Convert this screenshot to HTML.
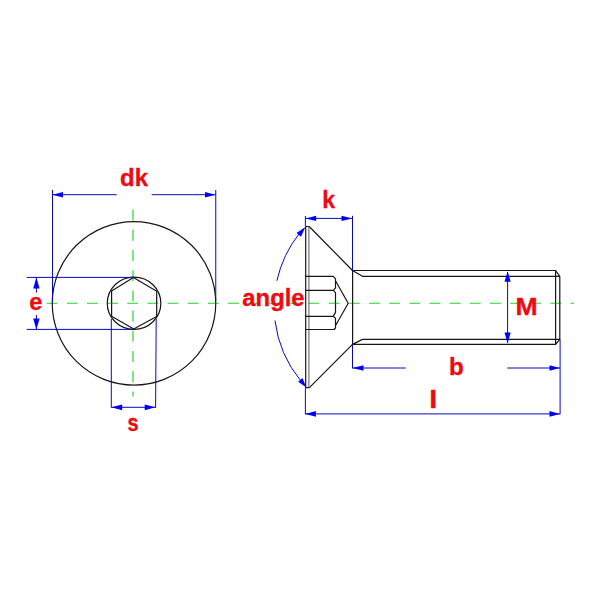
<!DOCTYPE html>
<html lang="en"><head><meta charset="utf-8"><title>Countersunk screw dimensions</title>
<style>html,body{margin:0;padding:0;background:#fff;}body{width:600px;height:600px;overflow:hidden;}svg{display:block;}</style>
</head><body>
<svg width="600" height="600" viewBox="0 0 600 600">
<rect width="600" height="600" fill="#fff"/>
<g stroke="#20d428" stroke-width="1.15" fill="none">
<line x1="46.7" y1="303.2" x2="574" y2="303.2" stroke-dasharray="10.8 9.35"/>
<line x1="133" y1="209.6" x2="133" y2="396.4" stroke-dasharray="11 9.2"/>
</g>
<g stroke="#161616" stroke-width="1.2" fill="none" stroke-linejoin="round" stroke-linecap="round">
<circle cx="134" cy="303.35" r="81.75"/>
<ellipse cx="134.05" cy="303.25" rx="26.8" ry="26.1"/>
<polygon points="133.4,277.5 156.7,291.2 156.7,316.5 133.7,329 111.6,316.2 111.6,291"/>
<path d="M305.7,387.6 L305.7,226.5 L309.2,226.5 L352.5,270.5 M305.7,387.6 L309.4,387.6 L352.5,344.4"/>
<path d="M308.9,226.5 L308.9,387.6" stroke="#444" stroke-width="0.9"/>
<path d="M352.6,270.5 L352.6,344.4"/>
<path d="M352.5,270.5 L555.6,270.5 L559.8,276.3 L559.8,339.4 L555.6,344.4 L352.5,344.4 M555.6,270.5 L555.6,344.4 M352.5,270.5 L362.5,276.3 L559.8,276.3 M352.5,344.4 L362.5,339.4 L559.8,339.4"/>
<path d="M305.7,276.4 L333.3,276.4 L335.5,278.8 L335.5,287.8 L333.3,290.3 L335.5,292.7 L335.5,312.4 L333.3,316.4 L335.5,318.3 L335.5,328 L334,329.5 L305.7,329.5 M305.7,290.4 L333.3,290.4 M305.7,316.4 L333.3,316.4 M335.5,280.7 L348.2,303.25 L335.5,325.7"/>
</g>
<g stroke="#0808c0" stroke-width="1" fill="none">
<path d="M52.5,190 L52.5,302 M215.75,190 L215.75,301 M52.5,194.7 L116.7,194.7 M151.7,194.7 L215.5,194.7"/>
<path d="M26.7,277.4 L133.4,277.4 M26.7,329.4 L133.7,329.4 M36.4,277.4 L36.4,292.7 M36.4,314.9 L36.4,329.4"/>
<path d="M111.3,319 L111.3,407.7 M156.2,319 L155.6,407.7 M111.3,407.3 L155.6,407.3"/>
<path d="M305.4,216 L305.4,226.4 M352.5,215.8 L352.5,270.5 M305.4,218.4 L352.5,218.4"/>
<path d="M507.6,272 L507.6,343"/>
<path d="M352.5,344.4 L352.5,368.4 M352.5,368 L405.8,368 M507.3,368 L560,368"/>
<path d="M305.4,388 L305.4,414.4 M560.1,339.5 L560.1,414.4 M305.4,413.9 L560,413.9"/>
<path d="M276.89,280.80 A117.6,117.6 0 0 1 299.70,233.00"/>
<path d="M274.97,320.50 A117.6,117.6 0 0 0 300.91,381.00"/>
</g>
<g fill="#0000f5" stroke="none">
<polygon points="52.50,194.70 63.00,191.90 63.00,197.50"/>
<polygon points="215.50,194.70 205.00,197.50 205.00,191.90"/>
<polygon points="36.40,277.40 39.60,288.40 33.20,288.40"/>
<polygon points="36.40,329.40 33.20,318.40 39.60,318.40"/>
<polygon points="111.30,407.30 122.20,404.40 122.20,410.20"/>
<polygon points="155.60,407.30 144.70,410.20 144.70,404.40"/>
<polygon points="305.40,218.40 316.20,215.70 316.20,221.10"/>
<polygon points="352.50,218.40 341.50,221.10 341.50,215.70"/>
<polygon points="507.60,271.20 510.70,281.80 504.50,281.80"/>
<polygon points="507.60,343.40 504.50,332.40 510.70,332.40"/>
<polygon points="352.50,368.00 363.50,365.20 363.50,370.80"/>
<polygon points="560.00,368.00 549.50,370.80 549.50,365.20"/>
<polygon points="305.40,413.90 315.90,411.10 315.90,416.70"/>
<polygon points="560.00,413.90 549.50,416.70 549.50,411.10"/>
<polygon points="305.40,226.90 300.98,236.66 296.54,232.92"/>
<polygon points="306.40,387.40 298.12,381.65 302.46,378.12"/>
</g>
<g fill="#ee0a12" stroke="#ee0a12" stroke-width="0.35" stroke-linejoin="round" font-family="'Liberation Sans', sans-serif" font-weight="bold">
<text transform="translate(120.12,186) scale(0.9743,1)" font-size="24.59">dk</text>
<text transform="translate(29.13,310) scale(1.0277,1)" font-size="23.01">e</text>
<text transform="translate(127.48,431) scale(0.8578,1)" font-size="23.19">s</text>
<text transform="translate(322.15,208) scale(0.9542,1)" font-size="24.31">k</text>
<text transform="translate(242.36,306) scale(1.0266,1)" font-size="23.21">angle</text>
<text transform="translate(515.44,315) scale(1.0926,1)" font-size="24.38">M</text>
<text transform="translate(449.00,375) scale(1.0391,1)" font-size="23.34">b</text>
<text transform="translate(429.18,408) scale(1.1535,1)" font-size="24.72">l</text>
</g>
</svg>
</body></html>
